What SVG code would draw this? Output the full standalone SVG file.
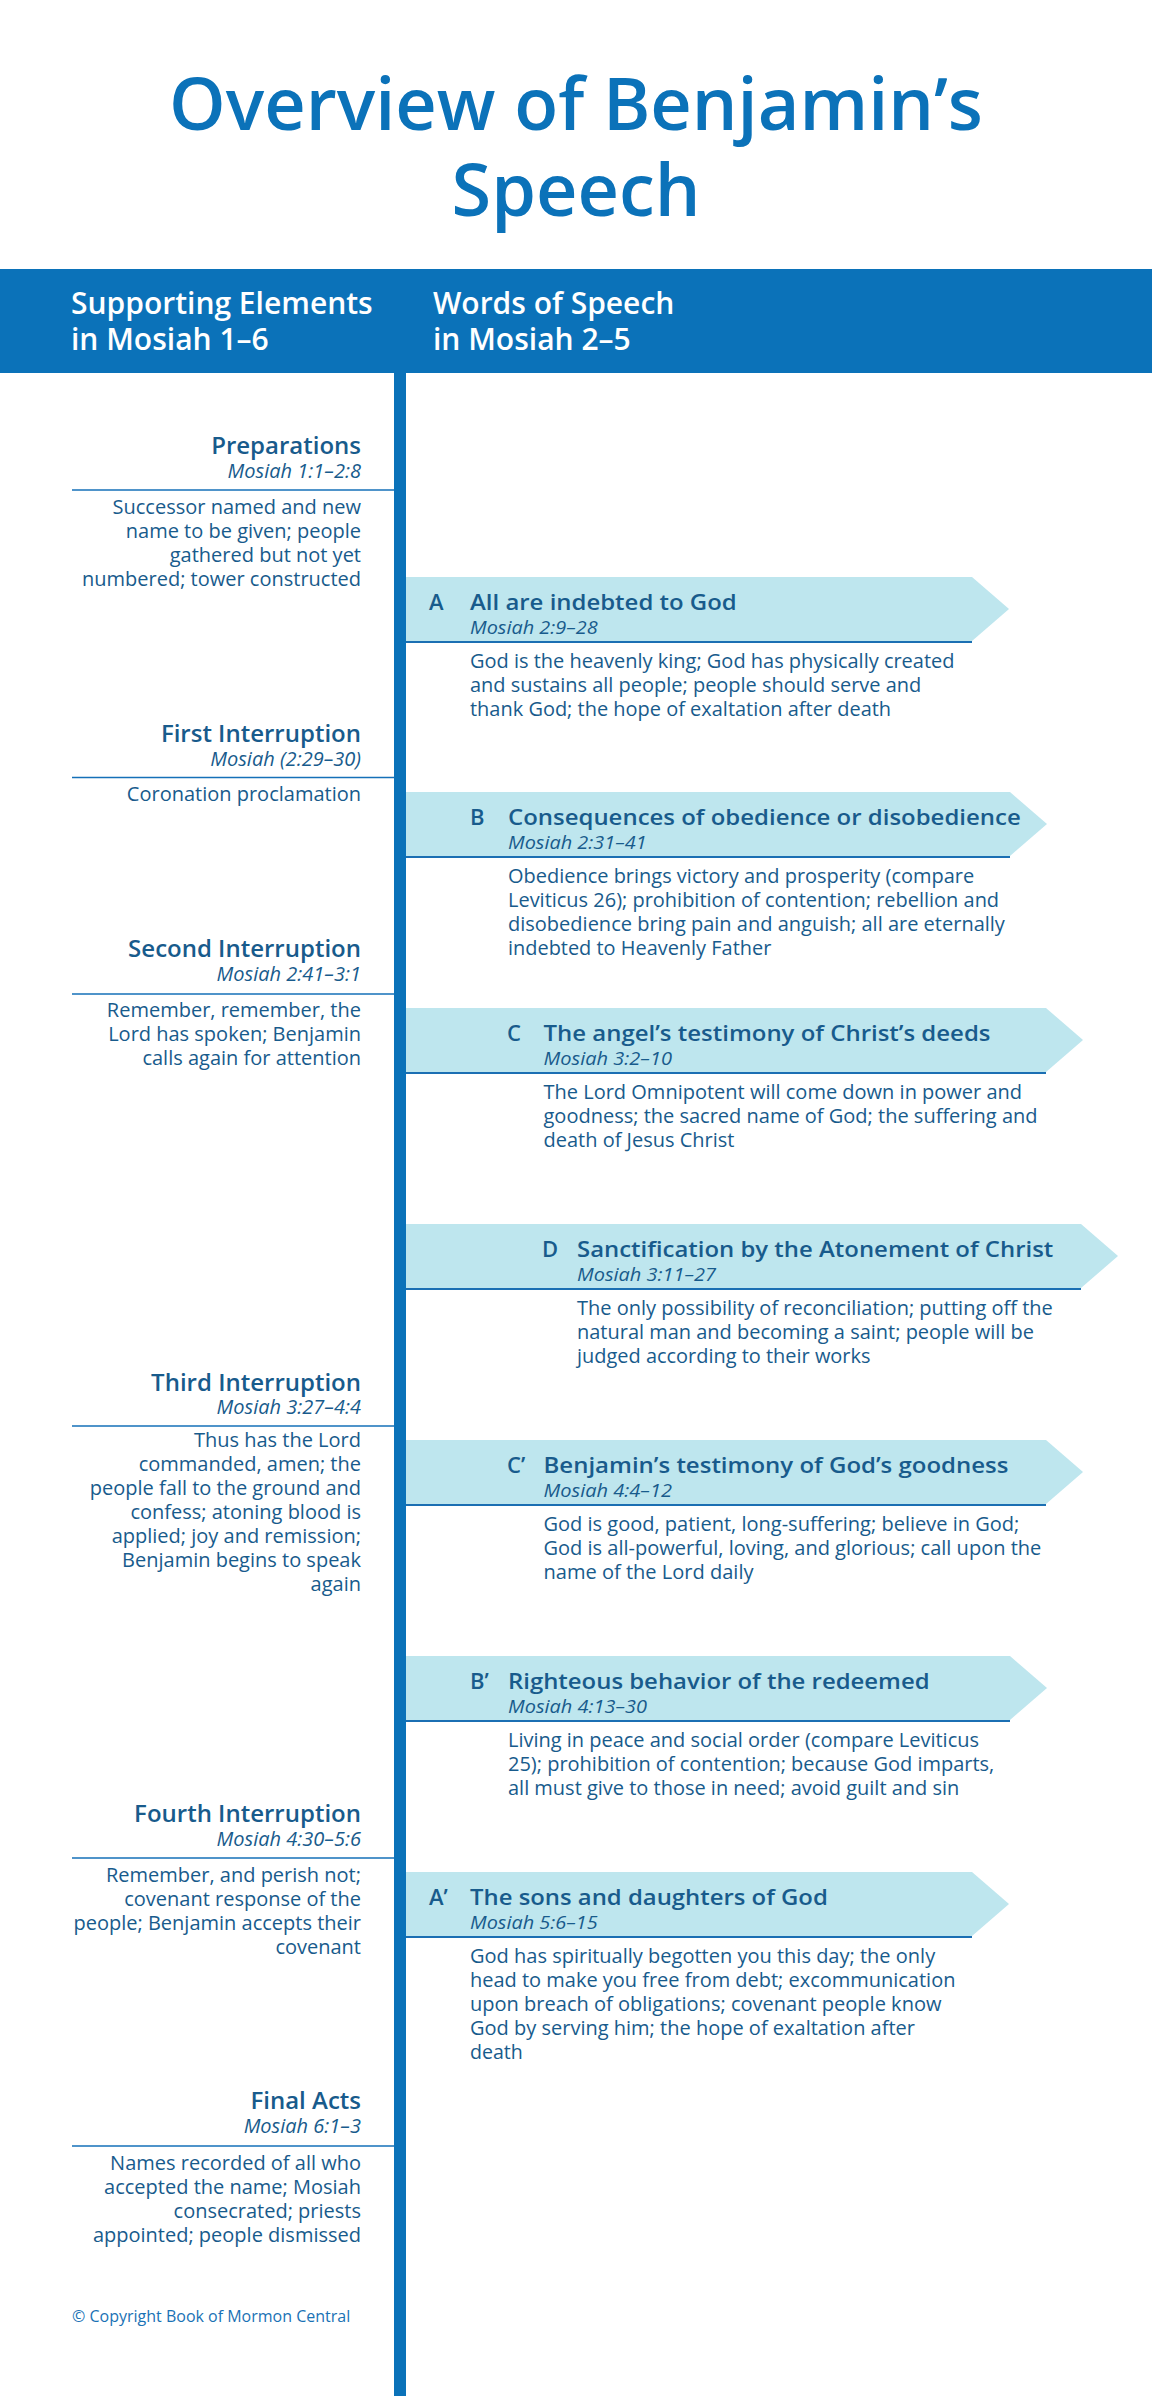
<svg xmlns="http://www.w3.org/2000/svg" width="1152" height="2396" viewBox="0 0 1152 2396">
<style>
text{font-family:"Open Sans","Noto Sans","Liberation Sans",sans-serif}
.ttl{font-size:72px;font-weight:600;fill:#0b72b9;text-anchor:middle}
.hdr{font-size:30px;font-weight:600;fill:#ffffff}
.lt{font-size:24px;font-weight:600;fill:#185b8c;text-anchor:end}
.li{font-size:20px;font-style:italic;fill:#185b8c;text-anchor:end}
.lb{font-size:20px;fill:#185b8c;text-anchor:end}
.rl{font-size:22px;font-weight:600;fill:#185b8c}
.rt{font-size:22px;font-weight:600;fill:#185b8c}
.ri{font-size:19px;font-style:italic;fill:#185b8c}
.rb{font-size:20px;fill:#185b8c}
.rule{stroke:#1570b8;stroke-width:1.5}
.ban{fill:#bee6ee}
.bl{stroke:#1b6fb3;stroke-width:2}
.copy{font-size:16px;fill:#1a72b5}
</style>
<rect width="1152" height="2396" fill="#ffffff"/>
<g id="title">
<text class="ttl" x="576" y="130">Overview of Benjamin’s</text>
<text class="ttl" x="576" y="216">Speech</text>
</g>
<g id="connectors">
<rect x="394" y="360" width="12" height="2036" fill="#0b72b9"/>
</g>
<g id="header">
<rect x="0" y="269" width="1152" height="104" fill="#0b72b9"/>
<text class="hdr" x="71" y="314">Supporting Elements</text>
<text class="hdr" x="71" y="350">in Mosiah 1–6</text>
<text class="hdr" x="433" y="314">Words of Speech</text>
<text class="hdr" x="433" y="350">in Mosiah 2–5</text>
</g>

<g id="preparations">
<text class="lt" x="361" y="454">Preparations</text>
<text class="li" x="361" y="478">Mosiah 1:1–2:8</text>
<line class="rule" x1="72" y1="490" x2="394" y2="490"/>
<text class="lb"><tspan x="361" y="514">Successor named and new</tspan><tspan x="361" y="538">name to be given; people</tspan><tspan x="361" y="562">gathered but not yet</tspan><tspan x="361" y="586">numbered; tower constructed</tspan></text>
</g>
<g id="first-interruption">
<text class="lt" x="361" y="742">First Interruption</text>
<text class="li" x="361" y="766">Mosiah (2:29–30)</text>
<line class="rule" x1="72" y1="777.5" x2="394" y2="777.5"/>
<text class="lb" x="361" y="801">Coronation proclamation</text>
</g>
<g id="second-interruption">
<text class="lt" x="361" y="957">Second Interruption</text>
<text class="li" x="361" y="981">Mosiah 2:41–3:1</text>
<line class="rule" x1="72" y1="994" x2="394" y2="994"/>
<text class="lb"><tspan x="361" y="1017">Remember, remember, the</tspan><tspan x="361" y="1041">Lord has spoken; Benjamin</tspan><tspan x="361" y="1065">calls again for attention</tspan></text>
</g>
<g id="third-interruption">
<text class="lt" x="361" y="1391">Third Interruption</text>
<text class="li" x="361" y="1414">Mosiah 3:27–4:4</text>
<line class="rule" x1="72" y1="1426" x2="394" y2="1426"/>
<text class="lb"><tspan x="361" y="1447">Thus has the Lord</tspan><tspan x="361" y="1471">commanded, amen; the</tspan><tspan x="361" y="1495">people fall to the ground and</tspan><tspan x="361" y="1519">confess; atoning blood is</tspan><tspan x="361" y="1543">applied; joy and remission;</tspan><tspan x="361" y="1567">Benjamin begins to speak</tspan><tspan x="361" y="1591">again</tspan></text>
</g>
<g id="fourth-interruption">
<text class="lt" x="361" y="1822">Fourth Interruption</text>
<text class="li" x="361" y="1846">Mosiah 4:30–5:6</text>
<line class="rule" x1="72" y1="1858" x2="394" y2="1858"/>
<text class="lb"><tspan x="361" y="1882">Remember, and perish not;</tspan><tspan x="361" y="1906">covenant response of the</tspan><tspan x="361" y="1930">people; Benjamin accepts their</tspan><tspan x="361" y="1954">covenant</tspan></text>
</g>
<g id="final-acts">
<text class="lt" x="361" y="2109">Final Acts</text>
<text class="li" x="361" y="2133">Mosiah 6:1–3</text>
<line class="rule" x1="72" y1="2146" x2="394" y2="2146"/>
<text class="lb"><tspan x="361" y="2170">Names recorded of all who</tspan><tspan x="361" y="2194">accepted the name; Mosiah</tspan><tspan x="361" y="2218">consecrated; priests</tspan><tspan x="361" y="2242">appointed; people dismissed</tspan></text>
</g>

<g id="A">
<polygon class="ban" points="406,577 972,577 1009,609 972,641 406,641"/>
<line class="bl" x1="406" y1="642" x2="972" y2="642"/>
<text class="rl" x="429" y="610">A</text>
<text class="rt" x="470" y="610" textLength="266.7" lengthAdjust="spacingAndGlyphs">All are indebted to God</text>
<text class="ri" x="470" y="634" textLength="127.6" lengthAdjust="spacingAndGlyphs">Mosiah 2:9–28</text>
<text class="rb" x="470" y="668" textLength="484.5" lengthAdjust="spacingAndGlyphs">God is the heavenly king; God has physically created</text>
<text class="rb" x="470" y="692" textLength="451.3" lengthAdjust="spacingAndGlyphs">and sustains all people; people should serve and</text>
<text class="rb" x="470" y="716" textLength="421.1" lengthAdjust="spacingAndGlyphs">thank God; the hope of exaltation after death</text>
</g>
<g id="B">
<polygon class="ban" points="406,792 1010,792 1047,824 1010,856 406,856"/>
<line class="bl" x1="406" y1="857" x2="1010" y2="857"/>
<text class="rl" x="470" y="825">B</text>
<text class="rt" x="508" y="825" textLength="512.7" lengthAdjust="spacingAndGlyphs">Consequences of obedience or disobedience</text>
<text class="ri" x="508" y="849" textLength="138.6" lengthAdjust="spacingAndGlyphs">Mosiah 2:31–41</text>
<text class="rb" x="508" y="883" textLength="466.2" lengthAdjust="spacingAndGlyphs">Obedience brings victory and prosperity (compare</text>
<text class="rb" x="508" y="907" textLength="491.1" lengthAdjust="spacingAndGlyphs">Leviticus 26); prohibition of contention; rebellion and</text>
<text class="rb" x="508" y="931" textLength="496.9" lengthAdjust="spacingAndGlyphs">disobedience bring pain and anguish; all are eternally</text>
<text class="rb" x="508" y="955" textLength="263.3" lengthAdjust="spacingAndGlyphs">indebted to Heavenly Father</text>
</g>
<g id="C">
<polygon class="ban" points="406,1008 1046,1008 1083,1040 1046,1072 406,1072"/>
<line class="bl" x1="406" y1="1073" x2="1046" y2="1073"/>
<text class="rl" x="507" y="1041">C</text>
<text class="rt" x="543.5" y="1041" textLength="447" lengthAdjust="spacingAndGlyphs">The angel’s testimony of Christ’s deeds</text>
<text class="ri" x="543.5" y="1065" textLength="128.5" lengthAdjust="spacingAndGlyphs">Mosiah 3:2–10</text>
<text class="rb" x="543.5" y="1099" textLength="478.6" lengthAdjust="spacingAndGlyphs">The Lord Omnipotent will come down in power and</text>
<text class="rb" x="543.5" y="1123" textLength="494" lengthAdjust="spacingAndGlyphs">goodness; the sacred name of God; the suffering and</text>
<text class="rb" x="543.5" y="1147" textLength="190.9" lengthAdjust="spacingAndGlyphs">death of Jesus Christ</text>
</g>
<g id="D">
<polygon class="ban" points="406,1224 1081,1224 1118,1256 1081,1288 406,1288"/>
<line class="bl" x1="406" y1="1289" x2="1081" y2="1289"/>
<text class="rl" x="542" y="1257">D</text>
<text class="rt" x="577" y="1257" textLength="476.3" lengthAdjust="spacingAndGlyphs">Sanctification by the Atonement of Christ</text>
<text class="ri" x="577" y="1281" textLength="139" lengthAdjust="spacingAndGlyphs">Mosiah 3:11–27</text>
<text class="rb" x="577" y="1315" textLength="475.8" lengthAdjust="spacingAndGlyphs">The only possibility of reconciliation; putting off the</text>
<text class="rb" x="577" y="1339" textLength="457" lengthAdjust="spacingAndGlyphs">natural man and becoming a saint; people will be</text>
<text class="rb" x="577" y="1363" textLength="293.5" lengthAdjust="spacingAndGlyphs">judged according to their works</text>
</g>
<g id="C-prime">
<polygon class="ban" points="406,1440 1046,1440 1083,1472 1046,1504 406,1504"/>
<line class="bl" x1="406" y1="1505" x2="1046" y2="1505"/>
<text class="rl" x="507" y="1473">C’</text>
<text class="rt" x="543.5" y="1473" textLength="465" lengthAdjust="spacingAndGlyphs">Benjamin’s testimony of God’s goodness</text>
<text class="ri" x="543.5" y="1497" textLength="128.5" lengthAdjust="spacingAndGlyphs">Mosiah 4:4–12</text>
<text class="rb" x="543.5" y="1531" textLength="475.8" lengthAdjust="spacingAndGlyphs">God is good, patient, long-suffering; believe in God;</text>
<text class="rb" x="543.5" y="1555" textLength="497.8" lengthAdjust="spacingAndGlyphs">God is all-powerful, loving, and glorious; call upon the</text>
<text class="rb" x="543.5" y="1579" textLength="210" lengthAdjust="spacingAndGlyphs">name of the Lord daily</text>
</g>
<g id="B-prime">
<polygon class="ban" points="406,1656 1010,1656 1047,1688 1010,1720 406,1720"/>
<line class="bl" x1="406" y1="1721" x2="1010" y2="1721"/>
<text class="rl" x="470" y="1689">B’</text>
<text class="rt" x="508" y="1689" textLength="421.6" lengthAdjust="spacingAndGlyphs">Righteous behavior of the redeemed</text>
<text class="ri" x="508" y="1713" textLength="139" lengthAdjust="spacingAndGlyphs">Mosiah 4:13–30</text>
<text class="rb" x="508" y="1747" textLength="471" lengthAdjust="spacingAndGlyphs">Living in peace and social order (compare Leviticus</text>
<text class="rb" x="508" y="1771" textLength="486.3" lengthAdjust="spacingAndGlyphs">25); prohibition of contention; because God imparts,</text>
<text class="rb" x="508" y="1795" textLength="451.3" lengthAdjust="spacingAndGlyphs">all must give to those in need; avoid guilt and sin</text>
</g>
<g id="A-prime">
<polygon class="ban" points="406,1872 972,1872 1009,1904 972,1936 406,1936"/>
<line class="bl" x1="406" y1="1937" x2="972" y2="1937"/>
<text class="rl" x="429" y="1905">A’</text>
<text class="rt" x="470" y="1905" textLength="357.8" lengthAdjust="spacingAndGlyphs">The sons and daughters of God</text>
<text class="ri" x="470" y="1929" textLength="127.6" lengthAdjust="spacingAndGlyphs">Mosiah 5:6–15</text>
<text class="rb" x="470" y="1963" textLength="465.2" lengthAdjust="spacingAndGlyphs">God has spiritually begotten you this day; the only</text>
<text class="rb" x="470" y="1987" textLength="485.4" lengthAdjust="spacingAndGlyphs">head to make you free from debt; excommunication</text>
<text class="rb" x="470" y="2011" textLength="471.5" lengthAdjust="spacingAndGlyphs">upon breach of obligations; covenant people know</text>
<text class="rb" x="470" y="2035" textLength="445" lengthAdjust="spacingAndGlyphs">God by serving him; the hope of exaltation after</text>
<text class="rb" x="470" y="2059" textLength="52.8" lengthAdjust="spacingAndGlyphs">death</text>
</g>
<g id="copyright">
<text class="copy" x="72" y="2322">© Copyright Book of Mormon Central</text>
</g>
</svg>
